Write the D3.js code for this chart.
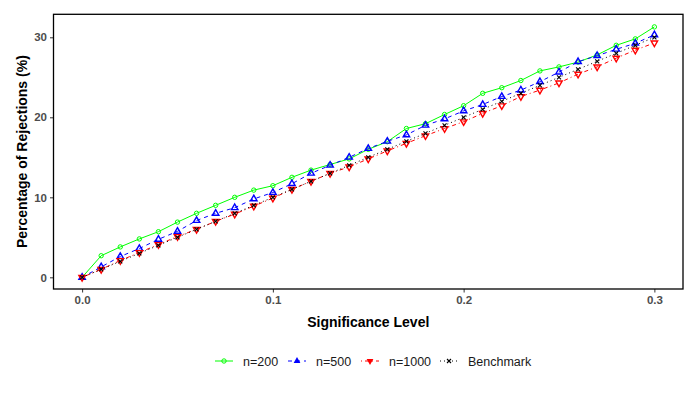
<!DOCTYPE html>
<html>
<head>
<meta charset="utf-8">
<script src="https://cdn.jsdelivr.net/npm/d3@7"></script>
<style>
  body { margin: 0; background: #fff; }
  text { font-family: "Liberation Sans", Arial, sans-serif; }
</style>
</head>
<body>
<div id="chart"></div>
<script>
// significance levels 0.00 .. 0.30
const alpha = d3.range(0, 31).map(i => i / 100);

const n200 = [0, 2.7, 3.8, 4.8, 5.7, 6.9, 8.0, 9.0, 10.0, 10.9, 11.45, 12.5, 13.4, 14.1, 14.8, 16.0,
  16.95, 18.6, 19.2, 20.35, 21.45, 23.0, 23.7, 24.6, 25.8, 26.3, 26.9, 27.8, 29.0, 29.8, 31.3];
const n500 = [0, 1.3, 2.6, 3.6, 4.75, 5.75, 7.1, 8.0, 8.7, 9.8, 10.6, 11.7, 13.0, 14.0, 15.0, 16.1,
  17.0, 17.8, 19.0, 19.8, 20.8, 21.6, 22.6, 23.4, 24.45, 25.65, 26.95, 27.7, 28.5, 29.25, 30.3];
const n1000 = [0, 1.0, 2.1, 3.1, 4.1, 5.1, 6.0, 7.0, 7.9, 8.9, 9.9, 11.0, 12.0, 13.0, 13.8, 14.8,
  15.8, 16.75, 17.7, 18.6, 19.45, 20.5, 21.45, 22.6, 23.4, 24.3, 25.4, 26.3, 27.4, 28.4, 29.3];
const benchmark = [0, 1, 2, 3, 4, 5, 6, 7, 8, 9, 10, 11, 12, 13, 14, 15,
  16, 17, 18, 19, 20, 21, 22, 23, 24, 25, 26, 27, 28, 29, 30];

const seriesNames = ['n=200', 'n=500', 'n=1000', 'Benchmark'];
const xTicks = [0, 0.1, 0.2, 0.3];
const yTicks = [0, 10, 20, 30];

const width = 699, height = 394;
const panel = {left: 53.5, right: 683, top: 14.3, bottom: 289};

const svg = d3.select('#chart').append('svg')
  .attr('width', width).attr('height', height);

// 1. scales
const x = d3.scaleLinear().domain([-0.015, 0.315]).range([panel.left, panel.right]);
const y = d3.scaleLinear().domain([-1.46, 32.875]).range([panel.bottom, panel.top]);

// 2. axes
const xAxis = svg.append('g')
  .attr('transform', `translate(0,${panel.bottom})`)
  .call(d3.axisBottom(x).tickValues(xTicks).tickFormat(d3.format('.1f')).tickSize(3.5).tickPadding(3));
const yAxis = svg.append('g')
  .attr('transform', `translate(${panel.left},0)`)
  .call(d3.axisLeft(y).tickValues(yTicks).tickSize(3.5).tickPadding(3));

[xAxis, yAxis].forEach(ax => {
  ax.select('.domain').remove();
  ax.selectAll('line').attr('stroke', '#333').attr('stroke-width', 1);
  ax.selectAll('text')
    .attr('fill', '#4d4d4d')
    .attr('font-size', 11.5)
    .attr('font-weight', 'bold')
    .attr('font-family', '"Liberation Sans", Arial, sans-serif');
});

// 3. series
const styles = [
  {name: seriesNames[0], values: n200, color: '#00ff00', dash: null, shape: 'circle'},
  {name: seriesNames[1], values: n500, color: '#0000ff', dash: '4,4', shape: 'up'},
  {name: seriesNames[2], values: n1000, color: '#ff0000', dash: '1,3,4,3', shape: 'down'},
  {name: seriesNames[3], values: benchmark, color: '#000000', dash: '1,3', shape: 'cross'}
];

const line = d3.line().x(d => x(d[0])).y(d => y(d[1]));

function marker(g, shape, color, legend) {
  if (shape === 'circle') {
    g.append('circle').attr('r', 2.2).attr('fill', 'none')
      .attr('stroke', color).attr('stroke-width', 1);
  } else if (shape === 'up' || shape === 'down') {
    const p = g.append('path')
      .attr('d', d3.symbol().type(d3.symbolTriangle).size(legend ? 20 : 18)())
      .attr('fill', legend ? color : 'none')
      .attr('stroke', color).attr('stroke-width', legend ? 0 : 1.4);
    if (shape === 'down') p.attr('transform', 'rotate(180)');
  } else {
    g.append('path')
      .attr('d', 'M-2,-2L2,2M-2,2L2,-2')
      .attr('stroke', color).attr('stroke-width', 1.1);
  }
}

const plot = svg.append('g');
styles.forEach(s => {
  const pts = alpha.map((a, i) => [a, s.values[i]]);
  plot.append('path')
    .datum(pts)
    .attr('d', line)
    .attr('fill', 'none')
    .attr('stroke', s.color)
    .attr('stroke-width', 1)
    .attr('stroke-dasharray', s.dash);
  pts.forEach(p => {
    const g = plot.append('g').attr('transform', `translate(${x(p[0])},${y(p[1])})`);
    marker(g, s.shape, s.color, false);
  });
});

// 4. panel border
svg.append('rect')
  .attr('x', panel.left).attr('y', panel.top)
  .attr('width', panel.right - panel.left).attr('height', panel.bottom - panel.top)
  .attr('fill', 'none').attr('stroke', '#000').attr('stroke-width', 1.3);

// 5. axis titles
svg.append('text')
  .attr('x', (panel.left + panel.right) / 2).attr('y', 327)
  .attr('text-anchor', 'middle')
  .attr('font-size', 14).attr('font-weight', 'bold')
  .text('Significance Level');
svg.append('text')
  .attr('transform', `translate(27,${(panel.top + panel.bottom) / 2}) rotate(-90)`)
  .attr('text-anchor', 'middle')
  .attr('font-size', 14).attr('font-weight', 'bold')
  .text('Percentage of Rejections (%)');

// 6. legend
const legendX = [215, 288, 361, 440];
const legend = svg.append('g').attr('transform', 'translate(0,361)');
styles.forEach((s, i) => {
  const g = legend.append('g').attr('transform', `translate(${legendX[i]},0)`);
  g.append('line').attr('x1', 0).attr('x2', 18).attr('y1', 0).attr('y2', 0)
    .attr('stroke', s.color).attr('stroke-width', 1)
    .attr('stroke-dasharray', s.dash);
  marker(g.append('g').attr('transform', 'translate(9,0)'), s.shape, s.color, true);
  g.append('text').attr('x', 28).attr('y', 4.5)
    .attr('font-size', 12.5).attr('fill', '#1a1a1a')
    .text(s.name);
});
</script>
</body>
</html>
